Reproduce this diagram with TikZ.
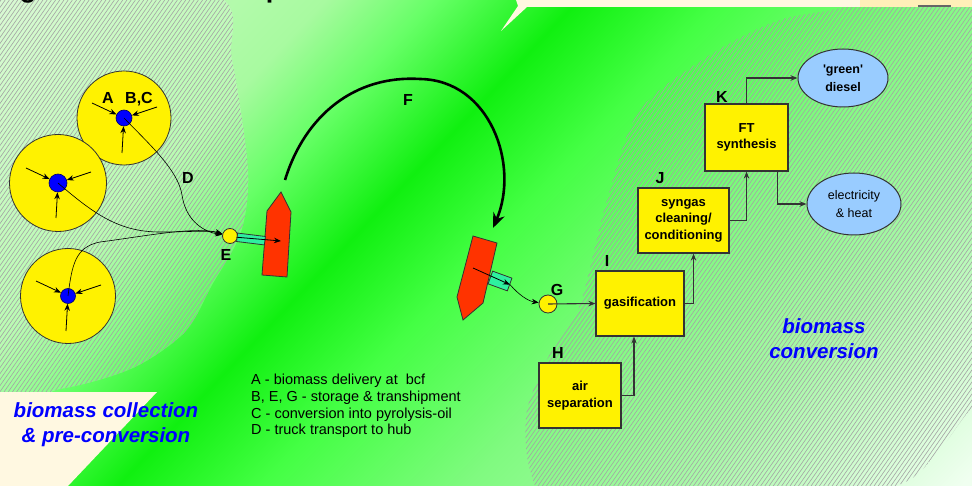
\documentclass[tikz,border=0pt]{standalone}
\usepackage{fontspec}
\setmainfont{Liberation Sans}
\usetikzlibrary{arrows.meta,shapes.geometric}

\definecolor{cream}{HTML}{FFF8E1}
\definecolor{sand}{HTML}{FFEFB8}
\definecolor{palegreen}{HTML}{D5F8CE}
\definecolor{lightgreen}{HTML}{A8FAA0}
\definecolor{midgreen}{HTML}{66FF66}
\definecolor{brightgreen}{HTML}{10F010}
\definecolor{rightgreen}{HTML}{44FF44}
\definecolor{softgreen}{HTML}{80FA80}
\definecolor{fadegreen}{HTML}{A8F8A8}
\definecolor{mistgreen}{HTML}{D0FCD0}
\definecolor{whitegreen}{HTML}{F0FFF0}
\definecolor{shipred}{HTML}{FF3300}
\definecolor{pipeteal}{HTML}{2EF0A0}
\definecolor{skyblue}{HTML}{99CCFF}
\definecolor{areablue}{HTML}{0000FF}
\definecolor{outline}{HTML}{333333}
\definecolor{navy}{HTML}{000066}

% background band, bright along the diagonal
\pgfdeclarehorizontalshading{greenband}{100bp}{color(0bp)=(palegreen); color(32.5bp)=(palegreen); color(42.9bp)=(lightgreen); color(46bp)=(midgreen); color(50bp)=(brightgreen); color(54bp)=(rightgreen); color(59.8bp)=(softgreen); color(66bp)=(fadegreen); color(70.2bp)=(mistgreen); color(73.7bp)=(whitegreen); color(100bp)=(whitegreen)}

% hatched areas (y grows downwards in the picture)
\newcommand\collectzone{plot[smooth cycle] coordinates {(-40,-40) (210,-8) (232,60) (248,170) (241,232) (212,285) (185,332) (133,368) (60,389) (-40,396)}}
\newcommand\convertzone{plot[smooth cycle] coordinates {(1020,-40) (850,6) (780,20) (713,53) (640,110) (607,200) (580,305) (552,350) (527,410) (530,470) (560,510) (700,530) (890,488) (935,455) (968,412) (1020,350)}}

\begin{document}
\begin{tikzpicture}[x=1pt, y=-1pt, >={Stealth[length=7pt,width=5.5pt]},
	letter/.style={font=\fontsize{16}{16}\selectfont\bfseries, inner sep=0pt, anchor=base},
	area/.style={font=\fontsize{20.5}{25}\selectfont\bfseries\itshape, text=areablue, align=center, inner sep=0pt, anchor=north},
	site/.style={circle, draw=outline, line width=.8pt, fill=yellow, minimum size=#1, inner sep=0pt},
	depot/.style={circle, draw=navy, line width=.6pt, fill=blue, minimum size=#1, inner sep=0pt},
	unit/.style={draw=outline, line width=1.2pt, fill=yellow, minimum width=#1, minimum height=65pt, inner sep=0pt, align=center, font=\fontsize{13}{16.5}\selectfont\bfseries},
	product/.style={ellipse, draw=outline, line width=1pt, fill=skyblue, inner sep=0pt, align=center, font=\fontsize{12.5}{18}\selectfont},
	feed/.style={->, line width=.8pt},
	truck/.style={->, line width=.6pt},
	flow/.style={->, draw=outline, line width=1.1pt},
	pipe/.style={draw=outline, line width=.8pt, fill=pipeteal, inner sep=0pt},
	hull/.style={draw=outline, line width=.8pt, fill=shipred},
	hatchline/.style={draw=black!36, line width=.6pt}
]
	\useasboundingbox (0,0) rectangle (972,486);
	\clip (0,0) rectangle (972,486);

	% background
	\shade[shading=greenband, shading angle=-43.5] (413,174) ++(-650,-650) rectangle ++(1300,1300);
	\fill[white, fill opacity=.2] \collectzone;
	\begin{scope}
		\clip \collectzone;
		\foreach \x in {-360,-355.8,...,300}
			\draw[hatchline] (\x,486) -- ++(340,-486);
	\end{scope}
	\begin{scope}
		\clip \convertzone;
		\foreach \x in {160,164.2,...,980}
			\draw[hatchline] (\x,486) -- ++(340,-486);
	\end{scope}
	\fill[cream] (516,0) -- (972,0) -- (972,7) -- (527,7) -- (501,31) -- (518,6) -- cycle;
	\fill[sand] (860,0) rectangle (972,7);
	\draw[black!60, line width=1.5pt] (918,6) -- (951,6);
	\fill[cream] (0,392) -- (157,392) -- (68,486) -- (0,486) -- cycle;

	\node[anchor=base, font=\fontsize{27}{27}\selectfont\bfseries] (titleg) at (28,-2) {g};
	\node[anchor=base, font=\fontsize{27}{27}\selectfont\bfseries] (titlep) at (274,-2) {p};

	% texts
	\node[anchor=north west, align=left, inner sep=0pt, font=\fontsize{14.5}{16.9}\selectfont] (legend) at (251,373.5) {A - biomass delivery at\ \ bcf\\B, E, G - storage \& transhipment\\C - conversion into pyrolysis-oil\\D - truck transport to hub};
	\node[area] (collectlabel) at (106,402) {biomass collection\\\& pre-conversion};
	\node[area] (convertlabel) at (824,318) {biomass\\conversion};

	% collection sites
	\node[site=94pt] (siteA) at (124,118) {};
	\node[site=97pt] (siteB) at (58,183) {};
	\node[site=95pt] (siteC) at (68,296) {};
	\node[depot=16pt] (dotA) at (124,118) {};
	\node[depot=18pt] (dotB) at (58,183) {};
	\node[depot=15pt] (dotC) at (68,296) {};
	\foreach \d in {dotA,dotB,dotC}
		\foreach \dx/\dy in {-32/-15,33/-11,-2/35}
			\draw[feed] ([shift={(\dx,\dy)}]\d.center) -- (\d);

	\node[letter] (labA) at (108,103.4) {A};
	\node[letter] (labBC) at (139,103.4) {B,C};
	\node[letter] (labD) at (188,184) {D};
	\node[letter] (labE) at (226,260.7) {E};
	\node[letter] (labF) at (408,105.7) {F};
	\node[letter] (labG) at (557,295.7) {G};
	\node[letter] (labH) at (558,359) {H};
	\node[letter] (labI) at (607,266.7) {I};
	\node[letter] (labJ) at (660,183.7) {J};
	\node[letter] (labK) at (722,102.4) {K};

	% trucks to the hub
	\node[site=15pt] (hubE) at (230,236) {};
	\draw[truck] (dotA.center) .. controls (150,145) and (178,170) .. (182,195) .. controls (186,222) and (205,232) .. (hubE);
	\draw[truck] (dotB.center) .. controls (95,215) and (120,232) .. (160,232) .. controls (190,232) and (208,230) .. (hubE);
	\draw[truck] (dotC.center) .. controls (72,265) and (75,247) .. (100,242) .. controls (140,237) and (195,226) .. (hubE);

	% loading and shipping
	\draw[hull] (281,192) -- (291,212) -- (287,277) -- (262,275) -- (267,211) -- cycle;
	\node[pipe, minimum width=28pt, minimum height=8.5pt, rotate=-7] (pipe1) at (251,239) {};
	\coordinate (hold1) at (281,241);
	\draw[feed] (pipe1.west) -- (hold1);

	\coordinate (bow1) at (285,180);
	\coordinate (bow2) at (493,228);
	\draw[line width=2.6pt, -{Stealth[length=15pt,width=12pt,inset=5pt]}] (bow1) .. controls (305,115) and (355,75) .. (420,79) .. controls (490,80) and (520,165) .. (bow2);

	\draw[hull] (473,236) -- (497,243) -- (483,303) -- (463,320) -- (457,297) -- cycle;
	\node[pipe, minimum width=20.5pt, minimum height=13.5pt, rotate=-20] (pipe2) at (500,281) {};
	\coordinate (hold2) at (473,268);
	\draw[feed] (hold2) -- (pipe2.east);
	\node[site=18pt] (hubG) at (548,304) {};
	\draw[truck] (pipe2.east) .. controls (519,295) and (528,301) .. (hubG);

	% conversion plant
	\node[unit=88pt] (gas) at (640,303.5) {gasification};
	\node[unit=82pt] (air) at (580,395.5) {air\\separation};
	\node[unit=91pt] (syngas) at (683.5,220.5) {syngas\\cleaning/\\conditioning};
	\node[unit=83pt, minimum height=67pt] (ft) at (746.5,137.5) {FT\\synthesis};
	\node[product, font=\fontsize{12.5}{18}\selectfont\bfseries, minimum width=90pt, minimum height=58pt] (diesel) at (843,78) {\textquotesingle green\textquotesingle\\diesel};
	\node[product, minimum width=94pt, minimum height=62pt] (elec) at (854,204) {electricity\\\& heat};

	\draw[flow] (hubG.center) -- (gas.west);
	\draw[flow] (air.east) -| ([xshift=-6pt]gas.south);
	\draw[flow] (gas.east) -| ([xshift=10pt]syngas.south);
	\draw[flow] (syngas.east) -| (ft.south);
	\draw[flow] (ft.north) |- (diesel.west);
	\draw[flow] ([xshift=31pt]ft.south) |- (elec.west);
\end{tikzpicture}
\end{document}
